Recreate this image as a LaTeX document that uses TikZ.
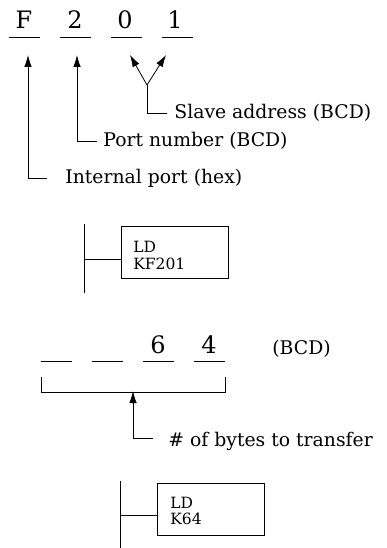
\documentclass[tikz,border=0pt]{standalone}
\usepackage{fontspec}
\setmainfont{DejaVu Serif}
\usepackage{tikz}
\usetikzlibrary{arrows.meta}

\begin{document}
\begin{tikzpicture}[>={Latex[length=12pt,width=7.5pt]},x=1pt,y=-1pt,line width=0.8pt,
	digit/.style = {inner sep=0pt,anchor=base,font=\fontsize{24}{24}\selectfont},
	txt/.style = {inner sep=0pt,anchor=west,font=\fontsize{18.8}{18.8}\selectfont},
	plc/.style = {inner sep=0pt,anchor=base west,font=\fontsize{15.5}{15.5}\selectfont},
	box/.style = {draw,minimum width=107pt,minimum height=52pt,inner sep=0pt,anchor=north west}
	]
	\useasboundingbox (0,0) rectangle (387,548);
	%CIFRE
	\node[digit] (F) at (24,29) {F};
	\node[digit] (2) at (75,29) {2};
	\node[digit] (0) at (125,29) {0};
	\node[digit] (1) at (175,29) {1};
	\draw (9,37) -- (40,37);
	\draw (60,37) -- (91,37);
	\draw (111,37) -- (142,37);
	\draw (162,37) -- (193,37);
	%FRECCE
	\coordinate (tipF) at (28,55);
	\coordinate (tip2) at (77,55);
	\coordinate (tip0) at (130,55);
	\coordinate (tip1) at (166,55);
	\coordinate (apex) at (147,85);
	\node[txt] (slave) at (174,113) {Slave address (BCD)};
	\node[txt] (port) at (103,141) {Port number (BCD)};
	\node[txt] (internal) at (65,178) {Internal port (hex)};
	\coordinate (endslave) at (167,113);
	\coordinate (endport) at (97,141);
	\coordinate (endint) at (47,178);
	\draw[->] (endint) -| (tipF);
	\draw[->] (endport) -| (tip2);
	\draw[->] (apex) -- (tip0);
	\draw[->] (apex) -- (tip1);
	\draw (endslave) -| (apex);
	%PRIMO BLOCCO
	\node[box] (ldA) at (121,226) {};
	\node[plc] (ldAa) at (133,252) {LD};
	\node[plc] (ldAb) at (133,269) {KF201};
	\coordinate (railAa) at (84,224);
	\coordinate (railAb) at (84,293);
	\coordinate (stubA) at (84,259);
	\draw (railAa) -- (railAb);
	\draw (stubA) -- (stubA -| ldA.west);
	%SECONDA RIGA
	\node[digit] (6) at (158,353) {6};
	\node[digit] (4) at (209,353) {4};
	\node[txt] (bcd) at (272,349) {(BCD)};
	\draw (41,361) -- (72,361);
	\draw (92,361) -- (123,361);
	\draw (143,361) -- (174,361);
	\draw (194,361) -- (225,361);
	\draw (41,377) -- (41,392) -- (225,392) -- (225,377);
	%BYTE
	\coordinate (tipB) at (133,391);
	\coordinate (endB) at (153,438);
	\node[txt] (bytes) at (168,441) {\# of bytes to transfer};
	\draw[->] (endB) -| (tipB);
	%SECONDO BLOCCO
	\node[box] (ldB) at (157,483) {};
	\node[plc] (ldBa) at (170,508) {LD};
	\node[plc] (ldBb) at (170,524.5) {K64};
	\coordinate (railBa) at (120,481);
	\coordinate (railBb) at (120,548);
	\coordinate (stubB) at (120,515);
	\draw (railBa) -- (railBb);
	\draw (stubB) -- (stubB -| ldB.west);
\end{tikzpicture}
\end{document}
